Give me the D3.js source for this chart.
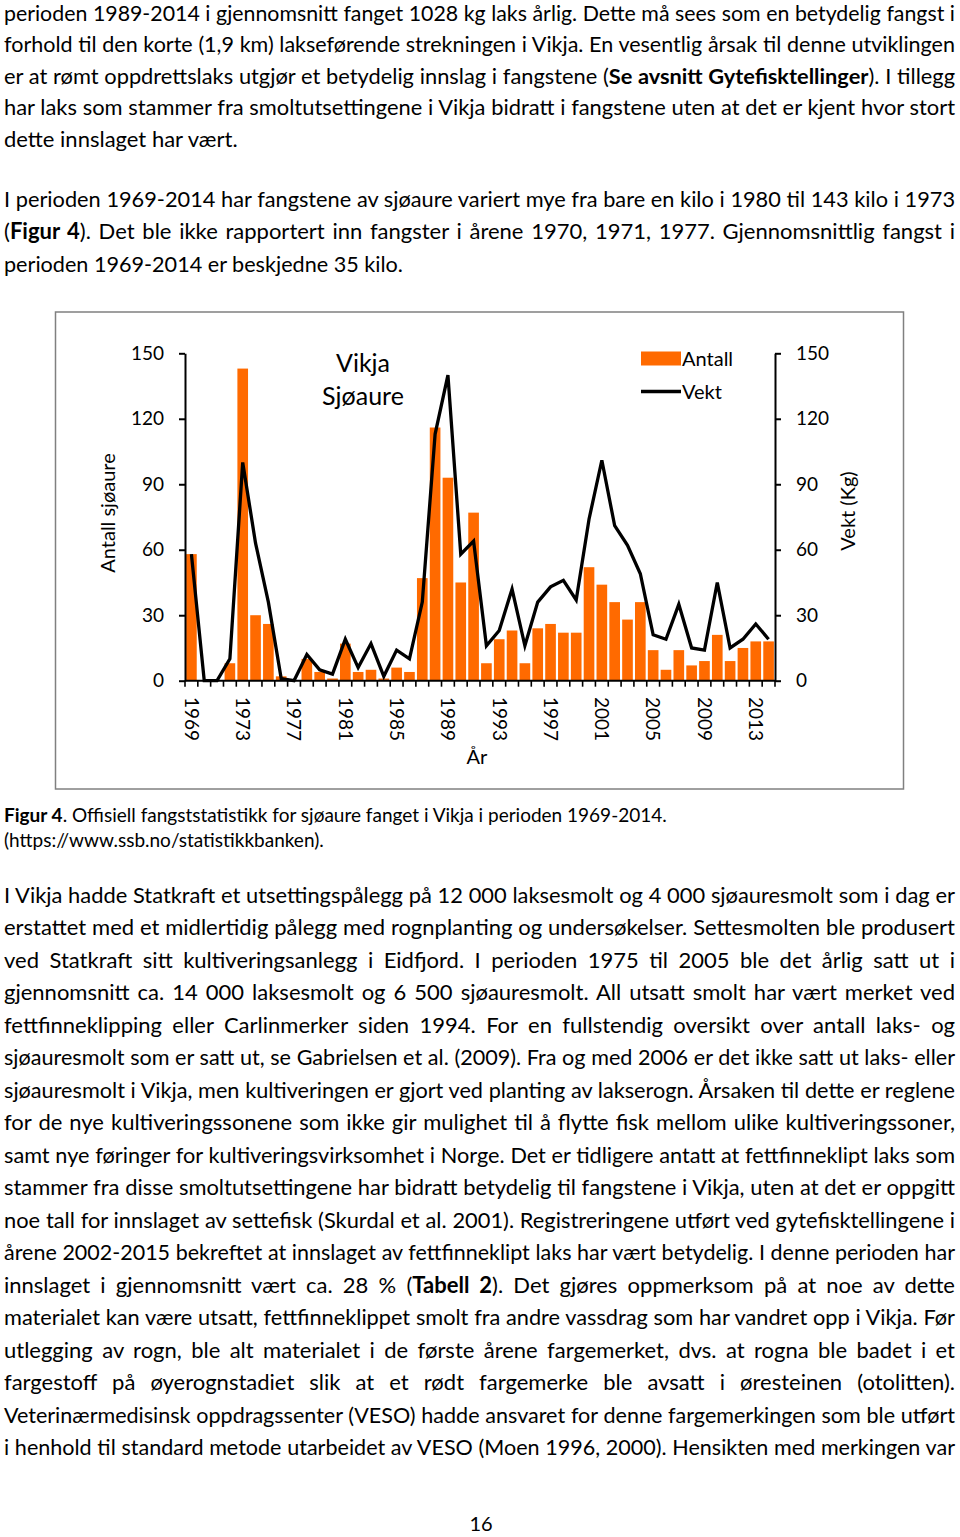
<!DOCTYPE html>
<html><head><meta charset="utf-8">
<script src="https://cdn.jsdelivr.net/npm/d3@7"></script>
<style>body{margin:0;background:#fff} svg{display:block}</style>
</head><body>
<script>
// ---------------- DATA ----------------
const years = [1969,1970,1971,1972,1973,1974,1975,1976,1977,1978,1979,1980,1981,1982,1983,1984,1985,1986,1987,1988,1989,1990,1991,1992,1993,1994,1995,1996,1997,1998,1999,2000,2001,2002,2003,2004,2005,2006,2007,2008,2009,2010,2011,2012,2013,2014];
const antall = [58,0,0,8,143,30,26,2,0,10,4,1,17,4,5,1,6,4,47,116,93,45,77,8,19,23,8,24,26,22,22,52,44,36,28,36,14,5,14,7,9,21,9,15,18,18];
const vekt = [58,0,0,10,100,63,36,1,0,12,5,3,19,6,17,2,14,10,36,113,140,58,64,16,23,42,16,36,43,46,37,74,101,71,62,49,21,19,35,15,14,45,15,19,26,19];
const yTicks = [0,30,60,90,120,150];
const yearLabels = [1969,1973,1977,1981,1985,1989,1993,1997,2001,2005,2009,2013];
const seriesNames = ["Antall","Vekt"];
const titleLines = ["Vikja","Sjøaure"];

const para1 = [
 "perioden 1989-2014 i gjennomsnitt fanget 1028 kg laks årlig. Dette må sees som en betydelig fangst i",
 "forhold til den korte (1,9 km) lakseførende strekningen i Vikja. En vesentlig årsak til denne utviklingen",
 "er at rømt oppdrettslaks utgjør et betydelig innslag i fangstene (**Se avsnitt Gytefisktellinger**). I tillegg",
 "har laks som stammer fra smoltutsettingene i Vikja bidratt i fangstene uten at det er kjent hvor stort",
 "dette innslaget har vært."
];
const para2 = [
 "I perioden 1969-2014 har fangstene av sjøaure variert mye fra bare en kilo i 1980 til 143 kilo i 1973",
 "(**Figur 4**). Det ble ikke rapportert inn fangster i årene 1970, 1971, 1977. Gjennomsnittlig fangst i",
 "perioden 1969-2014 er beskjedne 35 kilo."
];
const caption = [
 "**Figur 4**. Offisiell fangststatistikk for sjøaure fanget i Vikja i perioden 1969-2014.",
 "(https://www.ssb.no/statistikkbanken)."
];
const para3 = [
 "I Vikja hadde Statkraft et utsettingspålegg på 12 000 laksesmolt og 4 000 sjøauresmolt som i dag er",
 "erstattet med et midlertidig pålegg med rognplanting og undersøkelser. Settesmolten ble produsert",
 "ved Statkraft sitt kultiveringsanlegg i Eidfjord. I perioden 1975 til 2005 ble det årlig satt ut i",
 "gjennomsnitt ca. 14 000 laksesmolt og 6 500 sjøauresmolt. All utsatt smolt har vært merket ved",
 "fettfinneklipping eller Carlinmerker siden 1994. For en fullstendig oversikt over antall laks- og",
 "sjøauresmolt som er satt ut, se Gabrielsen et al. (2009). Fra og med 2006 er det ikke satt ut laks- eller",
 "sjøauresmolt i Vikja, men kultiveringen er gjort ved planting av lakserogn. Årsaken til dette er reglene",
 "for de nye kultiveringssonene som ikke gir mulighet til å flytte fisk mellom ulike kultiveringssoner,",
 "samt nye føringer for kultiveringsvirksomhet i Norge. Det er tidligere antatt at fettfinneklipt laks som",
 "stammer fra disse smoltutsettingene har bidratt betydelig til fangstene i Vikja, uten at det er oppgitt",
 "noe tall for innslaget av settefisk (Skurdal et al. 2001). Registreringene utført ved gytefisktellingene i",
 "årene 2002-2015 bekreftet at innslaget av fettfinneklipt laks har vært betydelig. I denne perioden har",
 "innslaget i gjennomsnitt vært ca. 28 % (**Tabell 2**). Det gjøres oppmerksom på at noe av dette",
 "materialet kan være utsatt, fettfinneklippet smolt fra andre vassdrag som har vandret opp i Vikja. Før",
 "utlegging av rogn, ble alt materialet i de første årene fargemerket, dvs. at rogna ble badet i et",
 "fargestoff på øyerognstadiet slik at et rødt fargemerke ble avsatt i øresteinen (otolitten).",
 "Veterinærmedisinsk oppdragssenter (VESO) hadde ansvaret for denne fargemerkingen som ble utført",
 "i henhold til standard metode utarbeidet av VESO (Moen 1996, 2000). Hensikten med merkingen var"
];

// ---------------- SETUP ----------------
const W = 960, H = 1537;
const FONT = "Lato, 'Open Sans', sans-serif";
const svg = d3.select("body").append("svg").attr("width", W).attr("height", H)
  .style("font-family", FONT);

function drawLine(str, x, y, size, target, justify) {
  const t = svg.append("text").attr("x", x).attr("y", y)
    .style("font-size", size + "px").attr("fill", "#000");
  str.split(/\*\*/).forEach((seg, i) => {
    if (!seg) return;
    t.append("tspan").text(seg).attr("font-weight", i % 2 ? "bold" : "normal");
  });
  let w = t.node().getComputedTextLength();
  if (w > target) {
    const s = size * target / w * 0.998;
    t.style("font-size", s + "px");
    w = t.node().getComputedTextLength();
  }
  const nsp = (str.match(/ /g) || []).length;
  if (justify && w < target && nsp > 0) {
    t.style("word-spacing", ((target - w) / nsp) + "px");
  }
}
function block(lines, y0, pitch, size, lastW, justifyLast) {
  lines.forEach((l, i) => {
    const last = i === lines.length - 1;
    const j = !last || justifyLast;
    drawLine(l, 4, y0 + i * pitch, size, last && !justifyLast ? lastW : 951, j);
  });
}
block(para1, 20.5, 31.5, 22, 240, false);
block(para2, 207, 32.4, 22, 400, false);
block(para3, 903, 32.47, 22, 951, true);
drawLine(caption[0], 4, 822, 19, 675, false);
drawLine(caption[1], 4, 847, 19, 340, false);
svg.append("text").attr("x", 481).attr("y", 1531).attr("text-anchor", "middle")
  .style("font-size", "20px").text("16");

// ---------------- CHART ----------------
svg.append("rect").attr("x", 55.5).attr("y", 312).attr("width", 848).attr("height", 477)
  .attr("fill", "#fff").attr("stroke", "#808080").attr("stroke-width", 1.5);

const x0 = 185, x1 = 775, yTop = 353.3, yBot = 680.7;
const x = d3.scaleBand().domain(years).range([x0, x1]).paddingInner(0.17).paddingOuter(0.085);
const y = d3.scaleLinear().domain([0, 150]).range([yBot, yTop]);
const ORANGE = "#FF6A00";

const g = svg.append("g");
g.selectAll("rect.bar").data(years).join("rect").attr("class", "bar")
  .attr("x", d => x(d)).attr("width", x.bandwidth())
  .attr("y", (d, i) => y(antall[i])).attr("height", (d, i) => yBot - y(antall[i]))
  .attr("fill", ORANGE);

const line = d3.line().x((d, i) => x(years[i]) + x.bandwidth() / 2).y(d => y(d));
g.append("path").datum(vekt).attr("d", line).attr("fill", "none")
  .attr("stroke", "#000").attr("stroke-width", 3.3).attr("stroke-linejoin", "miter");

// axes
function styleAxis(sel) {
  sel.selectAll("path,line").attr("stroke", "#000").attr("stroke-width", 2);
  sel.selectAll("text").style("font-size", "19px").style("font-family", FONT).attr("fill", "#000");
}
svg.append("g").attr("transform", `translate(${x0},0)`)
  .call(d3.axisLeft(y).tickValues(yTicks).tickSize(6).tickSizeOuter(0).tickPadding(15))
  .call(styleAxis);
svg.append("g").attr("transform", `translate(${x1},0)`)
  .call(d3.axisRight(y).tickValues(yTicks).tickSize(6).tickSizeOuter(0).tickPadding(15))
  .call(styleAxis);

// x axis
const step = x.step();
const off = (step - x.bandwidth()) / 2;
const bounds = years.map(d => x(d) - off).concat([x1]);
const xa = svg.append("g");
xa.append("line").attr("x1", x0).attr("x2", x1).attr("y1", yBot).attr("y2", yBot)
  .attr("stroke", "#000").attr("stroke-width", 2);
xa.selectAll("line.tk").data(bounds).join("line").attr("class", "tk")
  .attr("x1", d => d).attr("x2", d => d).attr("y1", yBot).attr("y2", yBot + 6)
  .attr("stroke", "#000").attr("stroke-width", 1.6);
xa.selectAll("text").data(yearLabels).join("text")
  .attr("transform", d => `translate(${x(d) + x.bandwidth() / 2},697) rotate(90)`)
  .attr("dy", "0.35em").attr("text-anchor", "start")
  .style("font-size", "19px").text(d => d);

// axis titles
svg.append("text").attr("transform", "translate(108,513) rotate(-90)")
  .attr("text-anchor", "middle").attr("dy", "0.35em").style("font-size", "20px").text("Antall sjøaure");
svg.append("text").attr("transform", "translate(848,511) rotate(-90)")
  .attr("text-anchor", "middle").attr("dy", "0.35em").style("font-size", "20px").text("Vekt (Kg)");
svg.append("text").attr("x", 477).attr("y", 757).attr("dy", "0.35em")
  .attr("text-anchor", "middle").style("font-size", "20px").text("År");

// title
titleLines.forEach((t, i) => {
  svg.append("text").attr("x", 363).attr("y", 363 + i * 33).attr("dy", "0.35em")
    .attr("text-anchor", "middle").style("font-size", "25px").text(t);
});

// legend
svg.append("rect").attr("x", 641).attr("y", 351.5).attr("width", 40).attr("height", 14).attr("fill", ORANGE);
svg.append("line").attr("x1", 641).attr("x2", 681).attr("y1", 391.5).attr("y2", 391.5)
  .attr("stroke", "#000").attr("stroke-width", 3.3);
seriesNames.forEach((s, i) => {
  svg.append("text").attr("x", 682).attr("y", 359 + i * 32.5).attr("dy", "0.35em")
    .style("font-size", "20px").text(s);
});
</script>
</body></html>
